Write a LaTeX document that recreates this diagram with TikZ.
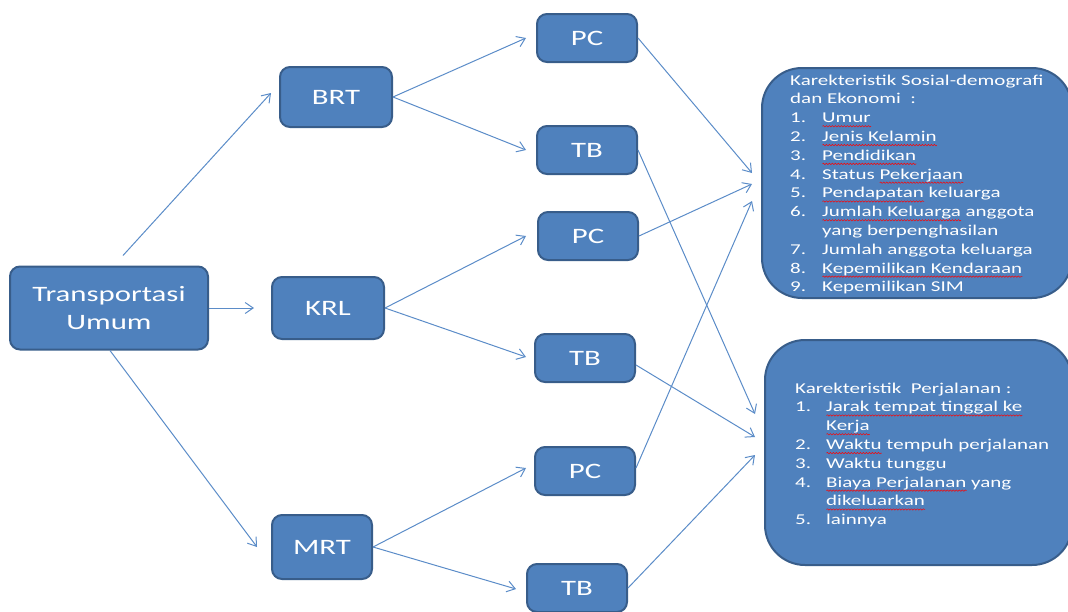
\documentclass[tikz,border=0pt]{standalone}
\usepackage{fontspec}
\setmainfont{Carlito}[FakeStretch=1.4]
\usetikzlibrary{arrows.meta,calc,decorations.pathmorphing}
\definecolor{boxfill}{RGB}{79,129,189}
\definecolor{boxline}{RGB}{56,93,138}
\definecolor{arrcol}{RGB}{91,140,200}
\newlength\sqwlen
\newcommand\sqw[1]{\setbox0\hbox{#1}\sqwlen=\wd0\relax\rlap{\raisebox{-3.5pt}{\tikz[baseline=0pt]\draw[sqwave] (0pt,0pt) -- (\sqwlen,0pt);}}\box0\relax}
\tikzset{
  box/.style={draw=boxline, fill=boxfill, line width=2pt, rounded corners=10pt,
    text=white, font=\fontsize{22}{28}\selectfont, inner sep=0pt, align=center,
    minimum width=100pt, minimum height=48pt},
  bigbox/.style={draw=boxline, fill=boxfill, line width=2pt, rounded corners=40pt, inner sep=0pt},
  listtext/.style={text=white, font=\fontsize{15}{18.8}\selectfont, inner sep=0pt, anchor=north west},
  arr/.style={draw=arrcol, line width=1pt, -{Straight Barb[length=8pt,width=11pt]}},
  sqwave/.style={draw=red, line width=0.5pt, decorate, decoration={snake, amplitude=0.7pt, segment length=3pt}}
}
\begin{document}
\begin{tikzpicture}[x=1pt,y=-1pt]
\useasboundingbox (0,0) rectangle (1068,611);
% main boxes
\node[box, minimum width=198pt, minimum height=83pt] (T) at (109,308) {Transportasi\\Umum};
\node[box, minimum width=112pt, minimum height=60pt] (BRT) at (336,97) {BRT};
\node[box, minimum width=112pt, minimum height=62pt] (KRL) at (328,308) {KRL};
\node[box, minimum width=100pt, minimum height=64pt] (MRT) at (322,547) {MRT};
\node[box] (PC1) at (587,38) {PC};
\node[box] (TB1) at (587,150) {TB};
\node[box] (PC2) at (588,236) {PC};
\node[box] (TB2) at (585,358) {TB};
\node[box] (PC3) at (585,471) {PC};
\node[box] (TB3) at (577,588) {TB};
% right boxes
\node[bigbox, minimum width=310pt, minimum height=230pt] (B1) at (917,183) {};
\node[bigbox, minimum width=307pt, minimum height=225pt] (B2) at (918.5,452.5) {};
\node[listtext] (L1) at (790,71.8) {\begin{tabular}{@{}p{32pt}@{}l@{}}
\multicolumn{2}{@{}l@{}}{Karekteristik Sosial-demografi}\\
\multicolumn{2}{@{}l@{}}{dan Ekonomi\ \ :}\\
1. & \sqw{Umur}\\
2. & \sqw{Jenis Kelamin}\\
3. & \sqw{Pendidikan}\\
4. & Status \sqw{Pekerjaan}\\
5. & \sqw{Pendapatan} keluarga\\
6. & \sqw{Jumlah Keluarga} anggota\\
   & yang berpenghasilan\\
7. & Jumlah anggota keluarga\\
8. & \sqw{Kepemilikan Kendaraan}\\
9. & Kepemilikan SIM
\end{tabular}};
\node[listtext] (L2) at (795,379.8) {\begin{tabular}{@{}p{31pt}@{}l@{}}
\multicolumn{2}{@{}l@{}}{Karekteristik\ \ Perjalanan :}\\
1. & \sqw{Jarak tempat tinggal ke}\\
   & \sqw{Kerja}\\
2. & \sqw{Waktu} tempuh perjalanan\\
3. & Waktu tunggu\\
4. & \sqw{Biaya Perjalanan} yang\\
   & \sqw{dikeluarkan}\\
5. & lainnya
\end{tabular}};
% connectors
\draw[arr] ($(T.north)+(14,-10)$) -- ($(BRT.west)+(-8,-4)$);
\draw[arr] (T.east) -- ($(KRL.west)+(-17,0)$);
\draw[arr] ($(T.south)+(1,0)$) -- ($(MRT.west)+(-14,0)$);
\draw[arr] (BRT.east) -- ($(PC1.west)+(-10,0)$);
\draw[arr] (BRT.east) -- ($(TB1.west)+(-10,0)$);
\draw[arr] (KRL.east) -- ($(PC2.west)+(-11,0)$);
\draw[arr] (KRL.east) -- ($(TB2.west)+(-8,-1)$);
\draw[arr] (MRT.east) -- ($(PC3.west)+(-8,-3)$);
\draw[arr] (MRT.east) -- ($(TB3.west)+(-10,1)$);
\draw[arr] (PC1.east) -- ($(B1.west)+(-9,-10)$);
\draw[arr] (PC2.east) -- ($(B1.west)+(-9,1)$);
\draw[arr] ($(PC3.east)+(0,-3)$) -- ($(B1.west)+(-9,18)$);
\draw[arr] (TB1.east) -- ($(B2.west)+(-9,-38.5)$);
\draw[arr] ($(TB2.east)+(0,7)$) -- ($(B2.west)+(-9,-15.5)$);
\draw[arr] (TB3.east) -- ($(B2.west)+(-9,2.5)$);
\end{tikzpicture}
\end{document}
